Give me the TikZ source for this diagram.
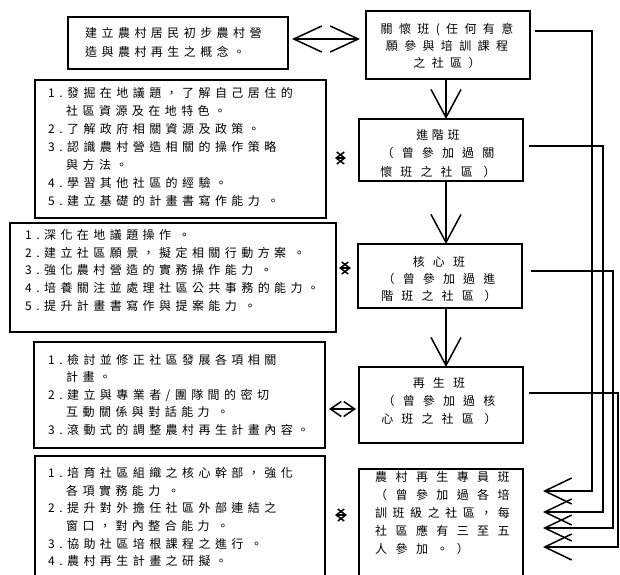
\documentclass[tikz,border=0pt]{standalone}
\usepackage{fontspec}
\newfontfamily\cjkL[LetterSpace=37]{Noto Sans CJK TC}
\newfontfamily\cjkR[LetterSpace=68]{Noto Sans CJK TC}
\newfontfamily\cjkS[LetterSpace=30]{Noto Sans CJK TC}
\newfontfamily\cjkO[LetterSpace=53]{Noto Sans CJK TC}
\newfontfamily\cjkP[LetterSpace=70]{Noto Sans CJK TC}
\newfontfamily\cjkQ[LetterSpace=46]{Noto Sans CJK TC}
\usetikzlibrary{arrows.meta,calc}
\begin{document}
\begin{tikzpicture}[x=1pt,y=-1pt,
  box/.style={draw, line width=1.7pt, inner sep=0pt, outer sep=0pt},
  ltxt/.style={anchor=north west, inner sep=0pt, align=left},
  ctxt/.style={anchor=north, inner sep=0pt, align=center},
  conn/.style={line width=1.5pt},
  varr/.style={conn, -{Straight Barb[length=28pt,width=30pt]}},
  bigdbl/.style={conn, {Straight Barb[length=28pt,width=26pt]}-{Straight Barb[length=28pt,width=26pt]}},
  meddbl/.style={conn, {Straight Barb[length=11pt,width=15pt]}-{Straight Barb[length=11pt,width=15pt]}},
  tinydbl/.style={conn, {Straight Barb[length=8pt,width=12pt]}-{Straight Barb[length=8pt,width=12pt]}},
  barr/.style={conn, -{Straight Barb[length=27pt,width=26pt]}}
]
\useasboundingbox (0,0) rectangle (620,574);
\fill[white] (0,0) rectangle (620,574);
\clip (0,0) rectangle (620,574);

% left boxes
\node[box, minimum width=220pt, minimum height=52pt] (b1) at (178,43) {};
\node[box, minimum width=291pt, minimum height=138pt] (b2) at (180.5,149) {};
\node[box, minimum width=326pt, minimum height=109pt] (b3) at (173,277.5) {};
\node[box, minimum width=291pt, minimum height=106pt] (b4) at (179.5,395) {};
\node[box, minimum width=290pt, minimum height=144pt] (b5) at (180,528) {};

% right boxes
\node[box, minimum width=164pt, minimum height=68pt] (r1) at (448,45) {};
\node[box, minimum width=164pt, minimum height=62pt] (r2) at (441,150) {};
\node[box, minimum width=164pt, minimum height=64pt] (r3) at (440,276) {};
\node[box, minimum width=164pt, minimum height=76pt] (r4) at (441,405) {};
\node[box, minimum width=164pt, minimum height=131pt] (r5) at (441,534.5) {};

% left texts
\node[ltxt, font=\cjkL\fontsize{12}{19}\selectfont] (t1) at (85,27)
  {建立農村居民初步農村營\\造與農村再生之概念。};
\node[ltxt, font=\cjkL\fontsize{12}{18}\selectfont] (t2) at (48,87)
  {1.發掘在地議題，了解自己居住的\\
   \hspace*{18pt}社區資源及在地特色。\\
   2.了解政府相關資源及政策。\\
   3.認識農村營造相關的操作策略\\
   \hspace*{18pt}與方法。\\
   4.學習其他社區的經驗。\\
   5.建立基礎的計畫書寫作能力 。};
\node[ltxt, font=\cjkL\fontsize{12}{17.7}\selectfont] (t3) at (25,229)
  {1.深化在地議題操作 。\\
   2.建立社區願景，擬定相關行動方案 。\\
   3.強化農村營造的實務操作能力 。\\
   4.培養關注並處理社區公共事務的能力。\\
   5.提升計畫書寫作與提案能力 。};
\node[ltxt, font=\cjkL\fontsize{12}{17.5}\selectfont] (t4) at (48,354)
  {1.檢討並修正社區發展各項相關\\
   \hspace*{18pt}計畫。\\
   2.建立與專業者/團隊間的密切\\
   \hspace*{18pt}互動關係與對話能力 。\\
   3.滾動式的調整農村再生計畫內容。};
\node[ltxt, font=\cjkL\fontsize{12}{17.7}\selectfont] (t5) at (48,467)
  {1.培育社區組織之核心幹部，強化\\
   \hspace*{18pt}各項實務能力 。\\
   2.提升對外擔任社區外部連結之\\
   \hspace*{18pt}窗口，對內整合能力 。\\
   3.協助社區培根課程之進行 。\\
   4.農村再生計畫之研擬。};

% right texts
\node[ctxt, font=\cjkO\fontsize{12}{17}\selectfont] (s1) at (447,23)
  {關懷班(任何有意\\願參與培訓課程\\之社區）};
\node[ctxt, font=\cjkR\fontsize{12}{18.5}\selectfont] (s2) at (438,129)
  {{\cjkS 進階班}\\（曾參加過關\\懷班之社區 ）};
\node[ctxt, font=\cjkR\fontsize{12}{17}\selectfont] (s3) at (439,256)
  {核心班\\（曾參加過進\\階班之社區 ）};
\node[ctxt, font=\cjkR\fontsize{12}{18}\selectfont] (s4) at (439,377)
  {再生班\\（曾參加過核\\心班之社區 ）};
\node[ltxt, font=\cjkP\fontsize{12}{18}\selectfont] (s5) at (375,471)
  {農村再生專員班\\（曾參加過各培\\{\cjkQ 訓班級之社區，每}\\社區應有三至五\\人參加。）};

% horizontal double arrows
\draw[bigdbl] ($(b1.east)+(4,-4)$) -- ($(r1.west)+(-6,-6)$);
\draw[tinydbl] ($(b2.east)+(9,9)$) -- ($(r2.west)+(-13,8)$);
\draw[tinydbl] ($(b3.east)+(3,-9.5)$) -- ($(r3.west)+(-7,-8)$);
\draw[meddbl] ($(b4.east)+(4,14)$) -- ($(r4.west)+(-3,4)$);
\draw[tinydbl] ($(b5.east)+(10,-13)$) -- ($(r5.west)+(-12,-19.5)$);

% vertical arrows
\draw[varr] ($(r1.south)+(-2,0)$) -- ($(r2.north)+(5,0)$);
\draw[varr] ($(r2.south)+(5,0)$) -- ($(r3.north)+(6,0)$);
\draw[varr] ($(r3.south)+(6,0)$) -- ($(r4.north)+(5,0)$);

% right routing to 專員班
\coordinate (e1) at (543,491);
\coordinate (e2) at (543,512);
\coordinate (e3) at (543,528);
\coordinate (e4) at (543,547);
\draw[barr] ($(r1.east)+(5,-14)$) -- ++(57,0) |- (e1);
\draw[barr] ($(r2.east)+(6,-4)$) -- ++(74,0) |- (e2);
\draw[barr] ($(r3.east)+(9,-5)$) -- ++(82,0) |- (e3);
\draw[barr] ($(r4.east)+(6,-12)$) -- ++(89,0) |- (e4);
\end{tikzpicture}
\end{document}
